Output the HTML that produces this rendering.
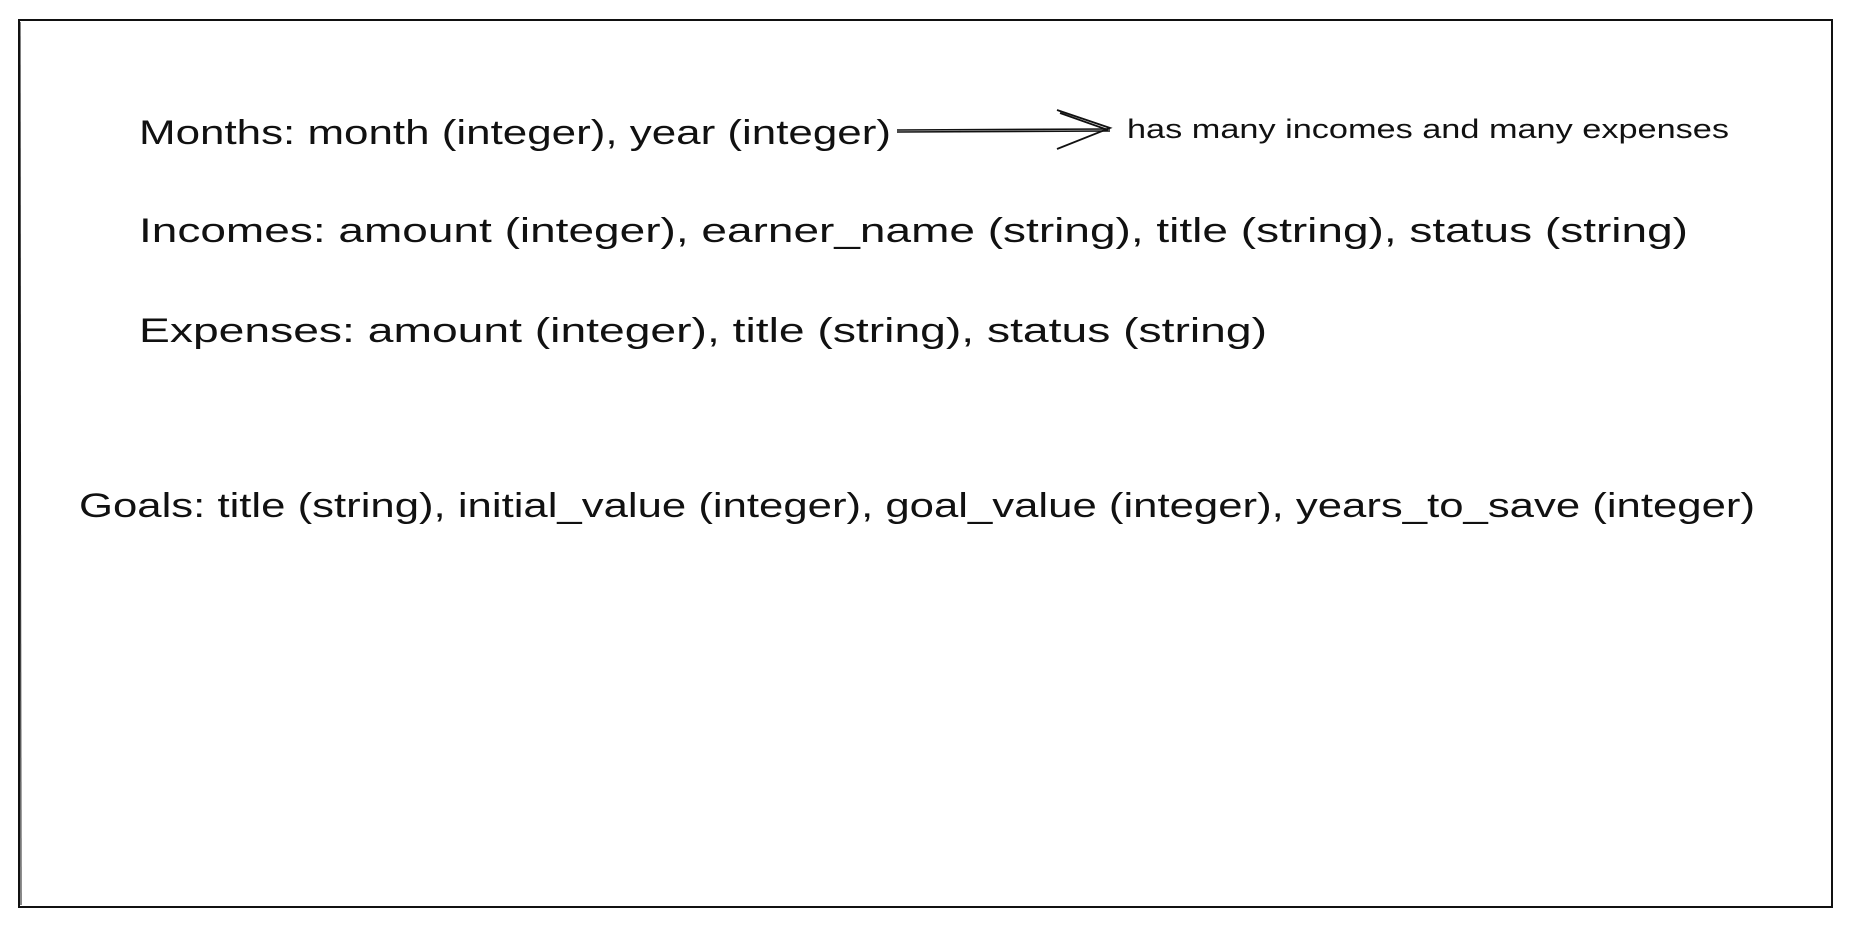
<!DOCTYPE html>
<html><head><meta charset="utf-8"><style>
html,body{margin:0;padding:0;background:#fff;}
svg{display:block;}
text{font-family:"Liberation Sans",sans-serif;fill:#111;}
</style></head><body>
<svg width="1851" height="926" viewBox="0 0 1851 926" xmlns="http://www.w3.org/2000/svg">
<rect x="19" y="20" width="1813" height="887" fill="none" stroke="#111" stroke-width="2"/>
<path d="M20 22 L21 905" stroke="#111" stroke-width="1" fill="none"/>
<text x="139" y="144" font-size="34" textLength="752" lengthAdjust="spacingAndGlyphs">Months: month (integer), year (integer)</text>
<path d="M897 130 L1110 129 M897 132 L1110 131" stroke="#111" stroke-width="1.6" fill="none"/>
<path d="M1057 110 L1110 128 L1057 149 M1060 113 L1108 130" stroke="#111" stroke-width="1.8" fill="none"/>
<text x="1127" y="138" font-size="27" textLength="602" lengthAdjust="spacingAndGlyphs">has many incomes and many expenses</text>
<text x="139" y="242" font-size="34" textLength="1549" lengthAdjust="spacingAndGlyphs">Incomes: amount (integer), earner_name (string), title (string), status (string)</text>
<text x="139" y="342" font-size="34" textLength="1128" lengthAdjust="spacingAndGlyphs">Expenses: amount (integer), title (string), status (string)</text>
<text x="79" y="517" font-size="34" textLength="1676" lengthAdjust="spacingAndGlyphs">Goals: title (string), initial_value (integer), goal_value (integer), years_to_save (integer)</text>
</svg>
</body></html>
